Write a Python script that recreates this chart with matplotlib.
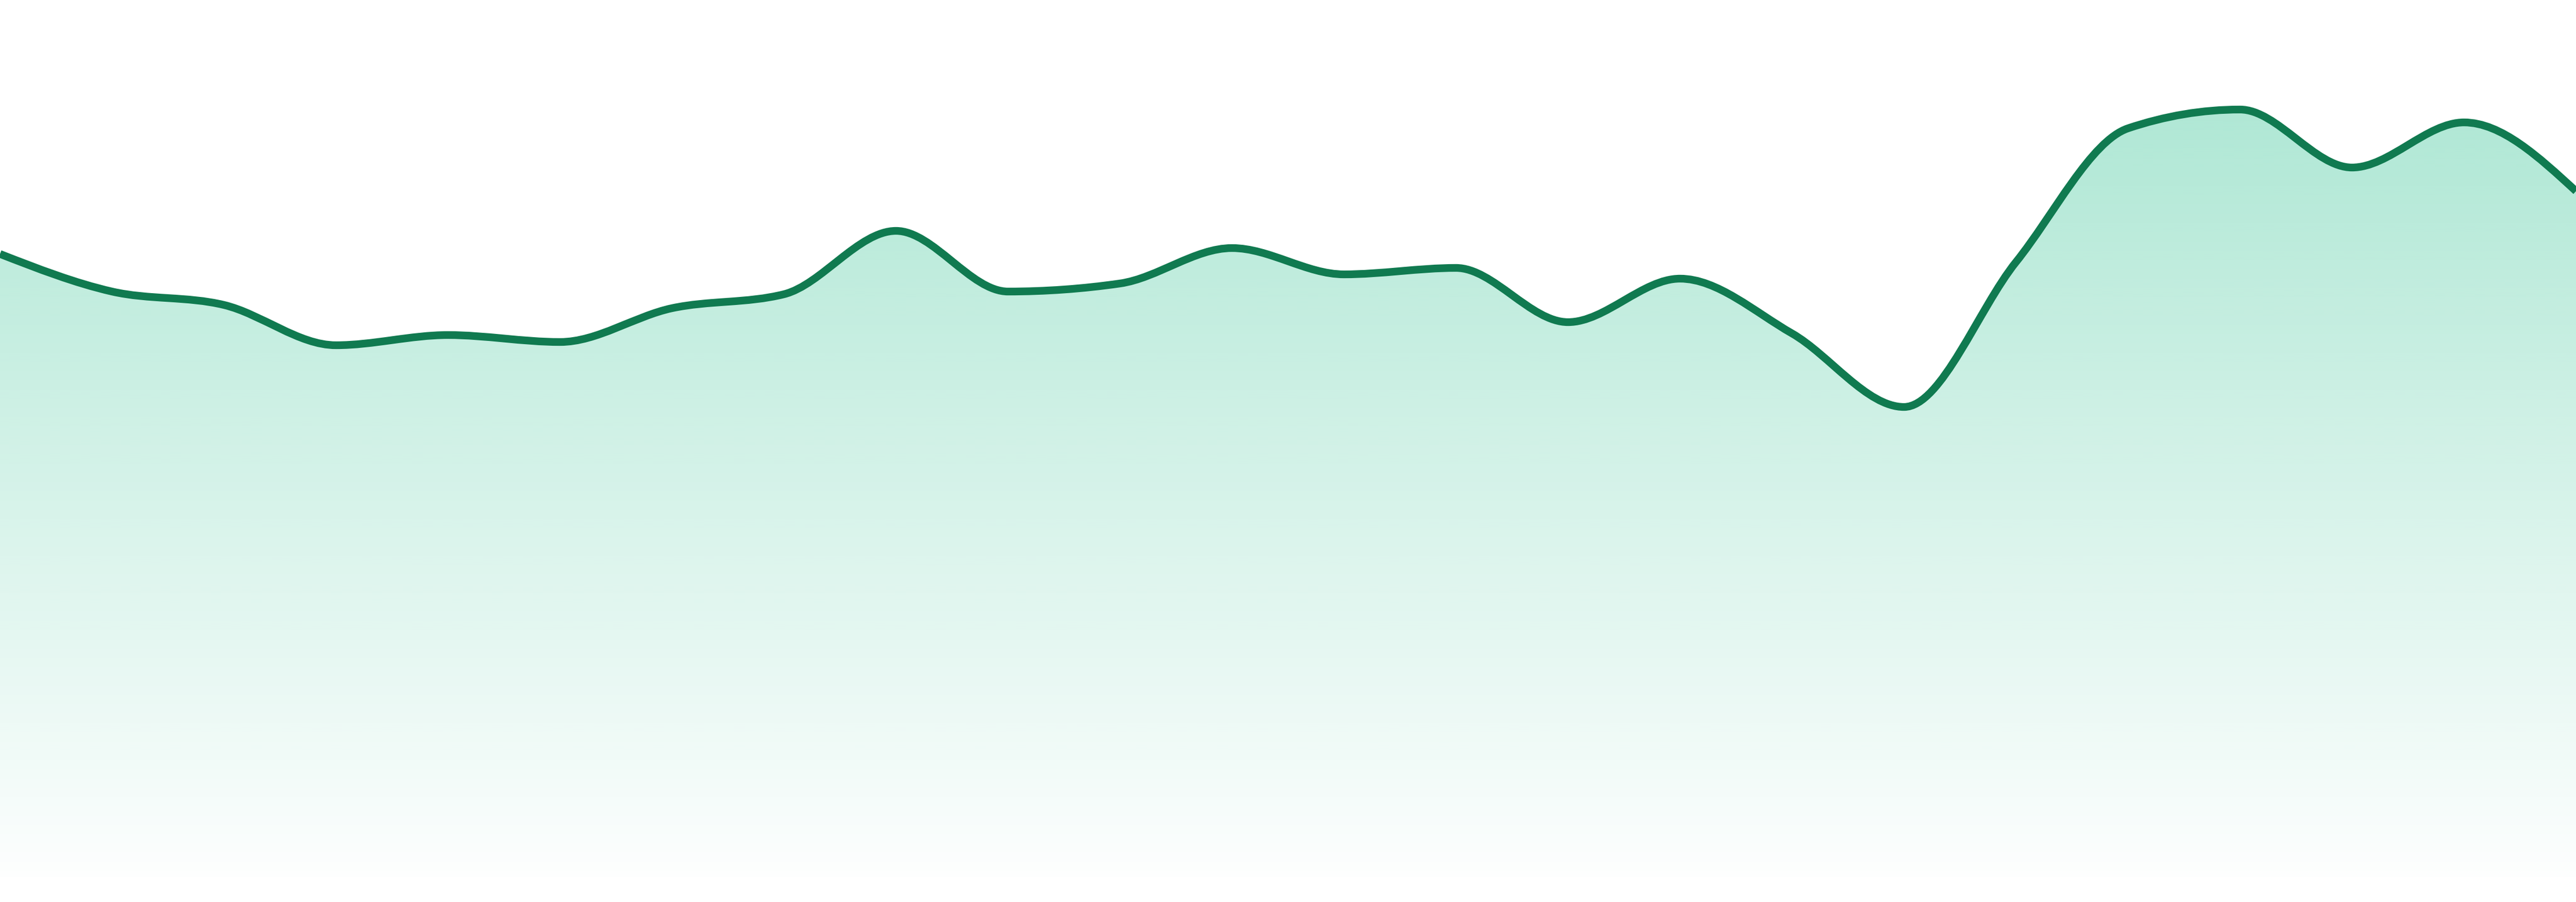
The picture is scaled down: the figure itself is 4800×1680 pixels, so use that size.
import numpy as np
import matplotlib
matplotlib.use('Agg')
from matplotlib import pyplot as plt
from matplotlib.path import Path
from matplotlib.patches import PathPatch

# series values, one per point, evenly spaced across the width
points = np.arange(24)
values = [116.0, 109.0, 106.5, 99.0, 100.9, 99.6, 105.9, 108.5, 120.3, 109.0,
          110.5, 117.1, 112.2, 113.4, 103.3, 111.4, 101.2, 87.5, 114.5, 139.4,
          142.9, 132.1, 140.5, 127.7]

line_color = '#107a50'
fill_rgb = (16 / 255, 185 / 255, 129 / 255)


def monotone_tangents(x, y):
    # same rule as d3 curveMonotoneX
    n = len(x)
    t = np.zeros(n)
    for i in range(1, n - 1):
        h0 = x[i] - x[i - 1]
        h1 = x[i + 1] - x[i]
        s0 = (y[i] - y[i - 1]) / h0
        s1 = (y[i + 1] - y[i]) / h1
        p = (s0 * h1 + s1 * h0) / (h0 + h1)
        t[i] = (np.sign(s0) + np.sign(s1)) * min(abs(s0), abs(s1), 0.5 * abs(p))
    h = x[1] - x[0]
    t[0] = (3 * (y[1] - y[0]) / h - t[1]) / 2
    h = x[-1] - x[-2]
    t[-1] = (3 * (y[-1] - y[-2]) / h - t[-2]) / 2
    return t


def curve_vertices(x, y):
    t = monotone_tangents(x, y)
    verts = [(x[0], y[0])]
    codes = [Path.MOVETO]
    for i in range(len(x) - 1):
        dx = (x[i + 1] - x[i]) / 3
        verts += [(x[i] + dx, y[i] + dx * t[i]),
                  (x[i + 1] - dx, y[i + 1] - dx * t[i + 1]),
                  (x[i + 1], y[i + 1])]
        codes += [Path.CURVE4] * 3
    return verts, codes


x = points.astype(float)
y = np.array(values, dtype=float)
verts, codes = curve_vertices(x, y)

fig = plt.figure(figsize=(48, 16.8), dpi=100)
ax = fig.add_axes([0, 0, 1, 1])
ymin, ymax = -4.7, 163.3
ax.set_xlim(x[0], x[-1])
ax.set_ylim(ymin, ymax)
ax.axis('off')

# area under the curve, gradient fill
fill_verts = verts + [(x[-1], 0), (x[0], 0), (x[0], y[0])]
fill_codes = codes + [Path.LINETO, Path.LINETO, Path.CLOSEPOLY]
fill_patch = PathPatch(Path(fill_verts, fill_codes), facecolor='none', edgecolor='none')
ax.add_patch(fill_patch)

grad = np.zeros((256, 1, 4))
grad[:, 0, 0:3] = fill_rgb
grad[:, 0, 3] = np.linspace(0.38, 0.01, 256)
img = ax.imshow(grad, extent=[x[0], x[-1], 0, ymax], aspect='auto',
                origin='upper', interpolation='bilinear', zorder=1)
img.set_clip_path(fill_patch)

line_patch = PathPatch(Path(verts, codes), facecolor='none', edgecolor=line_color,
                       linewidth=10.3, capstyle='butt', joinstyle='round', zorder=3)
ax.add_patch(line_patch)

fig.savefig('out.png', dpi=100, facecolor='white')
